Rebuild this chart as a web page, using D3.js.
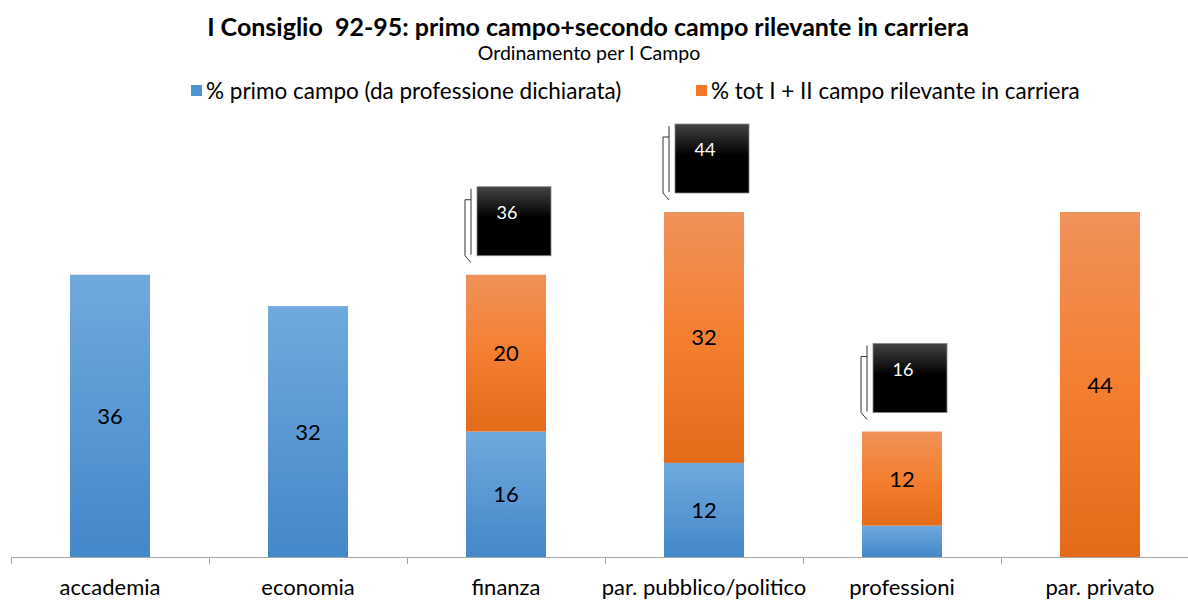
<!DOCTYPE html>
<html>
<head>
<meta charset="utf-8">
<script src="https://cdn.jsdelivr.net/npm/d3@7"></script>
<style>
  body { margin: 0; background: #fff; }
  text { font-family: Lato, "Open Sans", sans-serif; }
</style>
</head>
<body>
<svg id="chart" width="1188" height="601"></svg>
<script>
// dati
var categorie = ["accademia", "economia", "finanza", "par. pubblico/politico", "professioni", "par. privato"]
var primoCampo = [36, 32, 16, 12, 4, 0]
var secondoCampo = [0, 0, 20, 32, 12, 44]
var totaliCallout = [null, null, 36, 44, 16, null]
var nomiSerie = ["% primo campo (da professione dichiarata)", "% tot I + II campo rilevante in carriera"]

var svg = d3.select("#chart")

var defs = svg.append("defs")
// gradienti tipo Excel
var gBlu = defs.append("linearGradient").attr("id", "gblu").attr("x1", 0).attr("y1", 0).attr("x2", 0).attr("y2", 1)
gBlu.append("stop").attr("offset", "0%").attr("stop-color", "#70a9de")
gBlu.append("stop").attr("offset", "100%").attr("stop-color", "#4388c9")
var gAra = defs.append("linearGradient").attr("id", "gara").attr("x1", 0).attr("y1", 0).attr("x2", 0).attr("y2", 1)
gAra.append("stop").attr("offset", "0%").attr("stop-color", "#f0925a")
gAra.append("stop").attr("offset", "50%").attr("stop-color", "#f47f30")
gAra.append("stop").attr("offset", "100%").attr("stop-color", "#e36b1a")
var gNero = defs.append("linearGradient").attr("id", "gnero").attr("x1", 0).attr("y1", 0).attr("x2", 0).attr("y2", 1)
gNero.append("stop").attr("offset", "0%").attr("stop-color", "#444")
gNero.append("stop").attr("offset", "45%").attr("stop-color", "#000")
gNero.append("stop").attr("offset", "100%").attr("stop-color", "#000")

var x = d3.scaleBand().domain(categorie).range([11, 1199])
var y = d3.scaleLinear().domain([0, 44]).range([557, 212])
var barW = 80

// titolo
svg.append("text").attr("x", 588).attr("y", 36).attr("text-anchor", "middle")
    .style("font-size", "25px").style("font-weight", "bold").style("white-space", "pre")
    .text("I Consiglio  92-95: primo campo+secondo campo rilevante in carriera")
svg.append("text").attr("x", 589).attr("y", 60).attr("text-anchor", "middle")
    .style("font-size", "19.5px").text("Ordinamento per I Campo")

// legenda
var legX = [191, 696]
var legCol = ["#4d94d6", "#f07a2a"]
nomiSerie.forEach(function (n, i) {
    svg.append("rect").attr("x", legX[i]).attr("y", 85).attr("width", 11).attr("height", 11).attr("fill", legCol[i])
    svg.append("text").attr("x", legX[i] + 15).attr("y", 99).style("font-size", "22.5px").text(n)
})

// barre
var dati = categorie.map(function (c, i) {
    return { cat: c, p: primoCampo[i], s: secondoCampo[i], tot: totaliCallout[i] }
})

var gruppi = svg.selectAll(".barra").data(dati).enter().append("g").attr("class", "barra")

gruppi.each(function (d) {
    var g = d3.select(this)
    var cx = x(d.cat) + x.bandwidth() / 2
    if (d.p > 0) {
        g.append("rect").attr("x", cx - barW / 2).attr("y", y(d.p)).attr("width", barW)
            .attr("height", y(0) - y(d.p)).attr("fill", "url(#gblu)")
        if (d.p >= 10)
            g.append("text").attr("x", cx).attr("y", (y(0) + y(d.p)) / 2 + 8).attr("text-anchor", "middle")
                .style("font-size", "22px").text(d.p)
    }
    if (d.s > 0) {
        g.append("rect").attr("x", cx - barW / 2).attr("y", y(d.p + d.s)).attr("width", barW)
            .attr("height", y(d.p) - y(d.p + d.s)).attr("fill", "url(#gara)")
        g.append("text").attr("x", cx).attr("y", (y(d.p) + y(d.p + d.s)) / 2 + 8).attr("text-anchor", "middle")
            .style("font-size", "22px").text(d.s)
    }
    // callout nero con il totale
    if (d.tot != null) {
        var L = cx - 29, T = y(d.tot) - 19 - 69
        g.append("path").attr("fill", "none").attr("stroke", "#333").attr("stroke-width", 1)
            .attr("d", "M" + (L - 6) + "," + (T + 2) + "V" + (T + 68))
        g.append("path").attr("fill", "none").attr("stroke", "#333").attr("stroke-width", 1)
            .attr("d", "M" + (L - 6) + "," + (T + 13) + "H" + (L - 12) + "V" + (T + 69) + "L" + (L - 6) + "," + (T + 76))
        g.append("rect").attr("x", L).attr("y", T).attr("width", 74).attr("height", 69)
            .attr("fill", "url(#gnero)").attr("stroke", "#888").attr("stroke-width", 0.8)
        g.append("text").attr("x", L + 30).attr("y", T + 32).attr("text-anchor", "middle")
            .attr("fill", "#fff").style("font-size", "18px").text(d.tot)
    }
})

// asse x
var asse = svg.append("g").attr("transform", "translate(0,557)")
asse.append("line").attr("x1", 11).attr("x2", 1188).attr("y1", 0.5).attr("y2", 0.5).attr("stroke", "#a6a6a6")
categorie.forEach(function (c) {
    asse.append("line").attr("x1", x(c) + 0.5).attr("x2", x(c) + 0.5).attr("y1", 0).attr("y2", 7).attr("stroke", "#a6a6a6")
    asse.append("text").attr("x", x(c) + x.bandwidth() / 2).attr("y", 38).attr("text-anchor", "middle")
        .style("font-size", "22px").text(c)
})
</script>
</body>
</html>
